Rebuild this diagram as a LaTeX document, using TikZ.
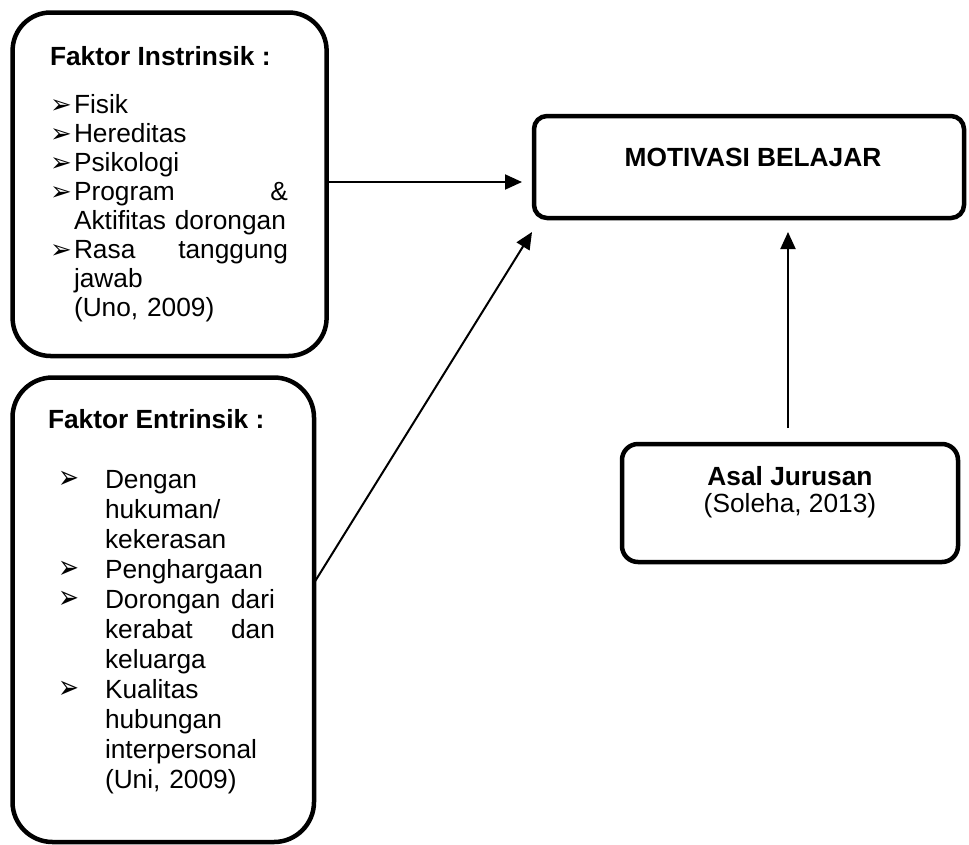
\documentclass[tikz,border=0pt]{standalone}
\usepackage{fontspec}
\setmainfont{Liberation Sans}
\newfontfamily\bulfont{DejaVu Sans}
\usetikzlibrary{arrows.meta}
\newcommand\jf{\hskip 0pt plus 1fill\relax}
\newcommand\bulA{{\bulfont\fontsize{26}{26}\selectfont ➢}}
\newcommand\bulB{\scalebox{1}[1.3]{\bulfont\fontsize{25}{25}\selectfont ➢}}
\tikzset{
  frame/.style={draw, line width=4.5pt, rectangle, inner sep=0pt, outer sep=0pt},
  head/.style={inner sep=0pt, outer sep=0pt, font=\bfseries\fontsize{26.3}{30}\selectfont},
  body/.style={inner sep=0pt, outer sep=0pt, align=left, font=\fontsize{26.3}{29}\selectfont},
  arr/.style={line width=2pt, -{Triangle[length=17pt,width=15pt]}},
}
\begin{document}
\begin{tikzpicture}[x=1pt,y=-1pt]
\useasboundingbox (0,0) rectangle (969,844);
\fill[white] (0,0) rectangle (969,844);

% boxes
\node[frame, rounded corners=38pt, minimum width=314pt, minimum height=343.5pt] (intr) at (169.6,184.25) {};
\node[frame, rounded corners=40pt, minimum width=301.5pt, minimum height=464.5pt] (entr) at (163.25,609.75) {};
\node[frame, rounded corners=13pt, minimum width=430pt, minimum height=102pt] (mot) at (749,167) {};
\node[frame, rounded corners=16pt, minimum width=336pt, minimum height=118pt] (asal) at (790,503) {};

% box 1 text
\node[head, anchor=base west] (intrhead) at (50,65) {Faktor Instrinsik :};
\node[body, anchor=north west, text width=238pt] (intrlist) at (50,94) {%
\makebox[24pt][l]{\bulA}Fisik\\
\makebox[24pt][l]{\bulA}Hereditas\\
\makebox[24pt][l]{\bulA}Psikologi\\
\makebox[24pt][l]{\bulA}Program\jf\&\\
\hspace*{24pt}Aktifitas dorongan\\
\makebox[24pt][l]{\bulA}Rasa\jf tanggung\\
\hspace*{24pt}jawab\\
\hspace*{24pt}(Uno, 2009)};

% box 2 text
\node[head, anchor=base west] (entrhead) at (48,428) {Faktor Entrinsik :};
\node[body, anchor=north west, text width=217pt, font=\fontsize{26.3}{30}\selectfont] (entrlist) at (58,470) {%
\makebox[47pt][l]{\bulB}Dengan\\
\hspace*{47pt}hukuman/\\
\hspace*{47pt}kekerasan\\
\makebox[47pt][l]{\bulB}Penghargaan\\
\makebox[47pt][l]{\bulB}Dorongan\jf dari\\
\hspace*{47pt}kerabat\jf dan\\
\hspace*{47pt}keluarga\\
\makebox[47pt][l]{\bulB}Kualitas\\
\hspace*{47pt}hubungan\\
\hspace*{47pt}interpersonal\\
\hspace*{47pt}(Uni, 2009)};

% motivasi text
\node[head, anchor=base] (mottext) at (753,166) {MOTIVASI BELAJAR};

% asal text
\node[head, anchor=base] (asaltext) at (790,485) {Asal Jurusan};
\node[inner sep=0pt, anchor=base, font=\fontsize{26.3}{30}\selectfont] (asalref) at (790,512) {(Soleha, 2013)};

% connectors
\coordinate (t2) at ([xshift=-2pt,yshift=-14pt]mot.south west);
\draw[arr, shorten >=12pt] ([yshift=2.25pt]intr.east) -- ([yshift=2.25pt]intr.east -| mot.west);
\draw[arr] ([yshift=26.75pt]entr.east) -- (t2);
\draw[arr, shorten <=16pt, shorten >=14pt] ([xshift=-2pt]asal.north) -- ([xshift=-2pt]asal.north |- mot.south);
\end{tikzpicture}
\end{document}
